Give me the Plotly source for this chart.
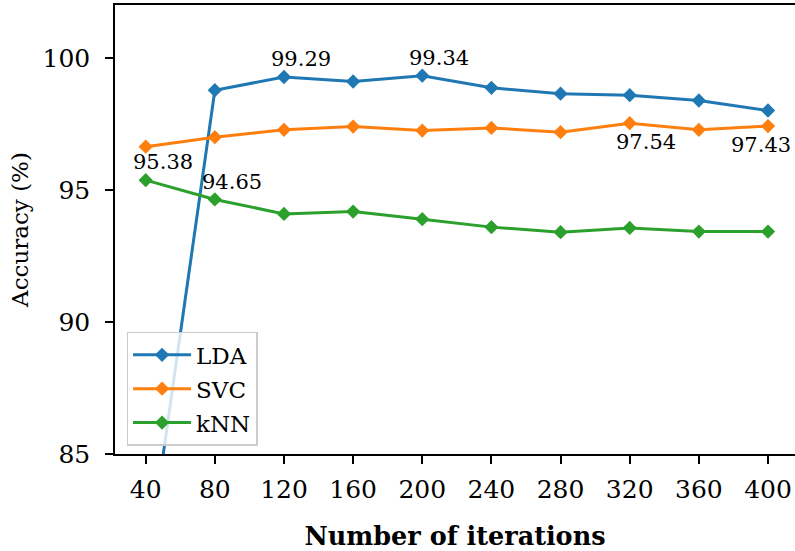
import plotly.graph_objects as go

# Classification accuracy vs. number of iterations
iterations = [40, 80, 120, 160, 200, 240, 280, 320, 360, 400]
lda = [80.30, 98.79, 99.29, 99.12, 99.34, 98.88, 98.66, 98.60, 98.40, 98.02]
svc = [96.65, 97.01, 97.29, 97.41, 97.26, 97.36, 97.20, 97.54, 97.29, 97.43]
knn = [95.38, 94.65, 94.10, 94.19, 93.90, 93.60, 93.41, 93.57, 93.43, 93.43]

series_names = ["LDA", "SVC", "kNN"]
series_values = [lda, svc, knn]
series_colors = ["#1f77b4", "#ff7f0e", "#2ca02c"]

# (series index, point index, xshift px, yshift px) for the value labels
value_labels = [
    (0, 2, 17, 18),
    (0, 4, 17, 18),
    (1, 7, 16, -19),
    (1, 9, -7, -19),
    (2, 0, 17, 18),
    (2, 1, 17, 17),
]

FONT = "DejaVu Serif"

fig = go.Figure()
for name, vals, color in zip(series_names, series_values, series_colors):
    fig.add_trace(go.Scatter(
        x=iterations, y=vals, name=name, legendgroup=name, mode="lines+markers",
        line=dict(color=color, width=3),
        marker=dict(symbol="diamond", size=11, color=color),
    ))

for si, pi, dx, dy in value_labels:
    v = series_values[si][pi]
    fig.add_annotation(
        x=iterations[pi], y=v, text=f"{v:.2f}", showarrow=False,
        xanchor="center", yanchor="middle", xshift=dx, yshift=dy,
        font=dict(family=FONT, size=21, color="black"),
    )

fig.update_layout(
    width=795, height=551,
    margin=dict(l=115, r=0, t=5, b=97),
    paper_bgcolor="white", plot_bgcolor="white",
    font=dict(family=FONT, color="black"),
    showlegend=True,
    legend=dict(
        x=0.017, y=0.272, xanchor="left", yanchor="top",
        bgcolor="rgba(255,255,255,0.8)", bordercolor="#cccccc", borderwidth=1.5,
        font=dict(family=FONT, size=23), itemwidth=58, tracegroupgap=1,
    ),
    xaxis=dict(
        range=[22.24, 415.62],
        tickmode="array", tickvals=iterations, ticktext=[str(v) for v in iterations],
        showgrid=False, zeroline=False,
        showline=True, linecolor="black", linewidth=1.5, mirror=True,
        ticks="outside", ticklen=8, tickwidth=1.5, tickcolor="black",
        tickfont=dict(family=FONT, size=25),
        ticklabelstandoff=4,
        title=dict(text="<b>Number of iterations</b>", font=dict(family=FONT, size=25.5), standoff=25),
    ),
    yaxis=dict(
        range=[85, 102.02],
        tickvals=[85, 90, 95, 100],
        showgrid=False, zeroline=False,
        showline=True, linecolor="black", linewidth=1.5, mirror=False,
        ticks="outside", ticklen=8, tickwidth=1.5, tickcolor="black",
        tickfont=dict(family=FONT, size=25),
        ticklabelstandoff=10,
        title=dict(text="Accuracy (%)", font=dict(family=FONT, size=23), standoff=7),
    ),
)

fig.write_html("out.html")
